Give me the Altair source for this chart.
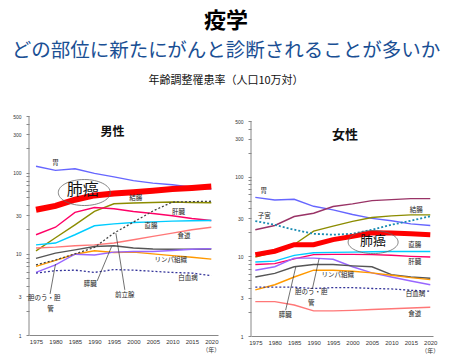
import altair as alt
import pandas as pd

FONT = "Noto Sans CJK JP"

years = [1975, 1980, 1985, 1990, 1995, 2000, 2005, 2010, 2015, 2020]
year_ticks = years
y_tick_values = [1, 2, 3, 4, 5, 6, 7, 8, 9, 10, 20, 30, 40, 50, 60, 70, 80, 90, 100, 200, 300, 400, 500]
y_label_values = [1, 3, 10, 30, 100, 300, 500]

# ---- male (age-adjusted incidence per 100,000) ----
m_stomach = [120, 107, 112, 98, 89, 80, 74.5, 71, 66.5, 63]
m_lung = [35, 39, 46.5, 52.5, 55.5, 57.6, 60, 63, 65, 67.5]
m_colon = [10.9, 15.8, 22.8, 33.3, 41.4, 42.3, 43, 43.5, 43, 42.6]
m_liver = [17.2, 21.3, 32.4, 37.2, 36, 33.3, 31.4, 29.5, 27.3, 25.8]
m_rectum = [12.9, 13.6, 17.2, 22.2, 23.4, 24.3, 24.8, 25.3, 25.6, 25.8]
m_prostate = [7.3, 8.4, 10, 12, 18, 24.6, 33.7, 43.5, 44, 44.5]
m_esophagus = [11.8, 12.1, 12.6, 12.9, 13.6, 14.9, 16.4, 18, 19.8, 21.3]
m_pancreas = [8.8, 10.2, 11.2, 12.3, 12.6, 11.8, 11.5, 11.4, 11.4, 11.5]
m_lymph = [7.0, 8.3, 9.9, 10.9, 10.4, 10.5, 10, 9.5, 9.1, 8.6]
m_gall = [5.9, 7.3, 9.9, 9.7, 10.5, 10.7, 10.7, 11, 11.4, 11.6]
m_leukemia = [5.8, 6.2, 6.3, 5.9, 6.4, 6.3, 6.1, 5.9, 5.8, 5.4]

# ---- female ----
f_stomach = [55, 51, 52, 42.5, 38.3, 33.5, 30, 28, 25.6, 24.4]
f_breast = [21.6, 24.4, 31.6, 34.8, 42.2, 45.5, 50, 51.6, 53, 53]
f_uterus = [27.7, 24.9, 21.6, 19.2, 18.7, 19.2, 21.6, 24.9, 28, 31.9]
f_colon = [9.8, 11.3, 14.1, 20.7, 24, 27.5, 30.7, 32.2, 33.2, 33.2]
f_lung = [10.5, 11.6, 14, 14, 16.2, 17.8, 19.8, 19.6, 19.2, 18.7]
f_rectum = [8.5, 8.7, 10.3, 11.1, 11.2, 11.3, 11.4, 11.5, 11.5, 11.5]
f_liver = [7.9, 8.1, 9.3, 10.5, 10.6, 10.6, 10.5, 10.3, 10, 9.8]
f_gall = [6.7, 7.4, 9.5, 9.5, 9.2, 7.4, 6.2, 5.5, 4.9, 4.4]
f_pancreas = [5.5, 6.1, 7.4, 7.9, 7.9, 7.6, 7.4, 5.9, 5.5, 5.3]
f_lymph = [3.8, 4.4, 5.5, 6.7, 6.7, 6.5, 6.2, 5.8, 5.4, 5.1]
f_leukemia = [4.1, 4.1, 4.1, 3.95, 4.05, 4.05, 3.95, 3.9, 3.75, 3.65]
f_esophagus = [2.7, 2.7, 2.45, 2.07, 2.07, 2.1, 2.15, 2.2, 2.25, 2.3]

# ---- annotation labels (year, rate, text) ----
m_label_text = ["胃", "結腸", "肝臓", "直腸", "食道", "リンパ組織", "白血病", "膵臓", "前立腺", "胆のう・胆", "管"]
m_label_year = [1980, 2000.6, 2011.6, 2004.5, 2013, 2009.6, 2014, 1988.9, 1997.8, 1977.1, 1978.7]
m_label_rate = [131, 48.7, 32.7, 22.3, 16.7, 8.3, 5.0, 4.27, 3.12, 2.88, 2.12]

f_label_text = ["胃", "子宮", "結腸", "直腸", "肝臓", "リンパ組織", "白血病", "胆のう・胆", "管", "膵臓", "食道"]
f_label_year = [1977.2, 1977.3, 2016.4, 2016, 2016, 1996.2, 2016.2, 1989.4, 1989.4, 1982.7, 2016]
f_label_rate = [65.5, 31.9, 38.7, 14, 8.5, 5.8, 3.35, 3.52, 2.62, 1.83, 1.87]

# leader lines (from label to line)
m_lead_year = [1990.7, 1997.8, 1978.6]
m_lead_rate = [4.64, 3.6, 3.2]
m_lead_year2 = [1994.4, 1995.5, 1980]
m_lead_rate2 = [12.3, 18, 7.47]

f_lead_year = [1982.8, 1989.7]
f_lead_rate = [2.11, 3.95]
f_lead_year2 = [1985.4, 1991.4]
f_lead_rate2 = [7.35, 9.36]

# lung label + ellipse position
m_lung_label = (1987, 61.6)
f_lung_label = (2005.3, 15.8)
m_ellipse = (1987.4, 57)
f_ellipse = (2005.3, 15.1)

ELLIPSE_M = "M -1 0 A 1 0.5 0 1 0 1 0 A 1 0.5 0 1 0 -1 0 Z"
ELLIPSE_F = "M -1 0 A 1 0.46 0 1 0 1 0 A 1 0.46 0 1 0 -1 0 Z"


def make_panel(series, lung, labels, leaders, lung_label, lung_fs, ellipse, ell_path, ell_size,
               title, title_xy, title_fs, width, height, xdom, ydom, nen_y):
    x_enc = alt.X("year:Q",
                  scale=alt.Scale(domain=xdom, nice=False, zero=False),
                  axis=alt.Axis(values=year_ticks, format="d", ticks=False, grid=False,
                                domainColor="#888888", domainWidth=1,
                                labelFontSize=6, labelColor="#333333", labelFont="Liberation Sans",
                                labelPadding=3, labelOverlap=False, labelFlush=False, title=None))
    label_expr = "indexof([1,3,10,30,100,300,500], datum.value) >= 0 ? datum.label : ''"
    y_enc = alt.Y("rate:Q",
                  scale=alt.Scale(type="log", domain=ydom, nice=False),
                  axis=alt.Axis(values=y_tick_values, format="d", labelExpr=label_expr,
                                grid=False, domain=False, tickSize=3, tickColor="#888888",
                                labelFontSize=5, labelColor="#333333", labelFont="Liberation Sans",
                                labelPadding=5, labelOverlap=False, title=None))

    layers = []
    # y axis line
    axis_df = pd.DataFrame({"rate": [1], "rate2": [500]})
    layers.append(alt.Chart(axis_df).mark_rule(color="#888888", strokeWidth=1).encode(
        x=alt.value(0), y=y_enc, y2="rate2:Q"))

    for vals, color, sw, dash in series:
        df = pd.DataFrame({"year": years, "rate": vals})
        kw = dict(color=color, strokeWidth=sw)
        if dash:
            kw["strokeDash"] = dash
        layers.append(alt.Chart(df).mark_line(**kw).encode(x=x_enc, y=y_enc))

    # lung (thick red)
    ldf = pd.DataFrame({"year": years, "rate": lung[0]})
    layers.append(alt.Chart(ldf).mark_line(color="#ff0000", strokeWidth=lung[1]).encode(x=x_enc, y=y_enc))

    # leaders
    ly, lr, ly2, lr2 = leaders
    lead_df = pd.DataFrame({"year": ly, "rate": lr, "year2": ly2, "rate2": lr2})
    layers.append(alt.Chart(lead_df).mark_rule(color="#333333", strokeWidth=0.7).encode(
        x=x_enc, y=y_enc, x2="year2:Q", y2="rate2:Q"))

    # labels
    t, ty, tr = labels
    lab_df = pd.DataFrame({"year": ty, "rate": tr, "text": t})
    layers.append(alt.Chart(lab_df).mark_text(font=FONT, fontSize=6.5, color="#222222").encode(
        x=x_enc, y=y_enc, text="text:N"))

    # ellipse + lung label
    edf = pd.DataFrame({"year": [ellipse[0]], "rate": [ellipse[1]]})
    layers.append(alt.Chart(edf).mark_point(shape=ell_path, size=ell_size, filled=False,
                                            stroke="#666666", strokeWidth=0.8, opacity=1).encode(
        x=x_enc, y=y_enc))
    bdf = pd.DataFrame({"year": [lung_label[0]], "rate": [lung_label[1]], "text": ["肺癌"]})
    layers.append(alt.Chart(bdf).mark_text(font=FONT, fontSize=lung_fs, color="#111111").encode(
        x=x_enc, y=y_enc, text="text:N"))

    # panel title
    tdf = pd.DataFrame({"text": [title]})
    layers.append(alt.Chart(tdf).mark_text(font=FONT, fontSize=title_fs, fontWeight="bold",
                                           color="#111111").encode(
        x=alt.value(title_xy[0]), y=alt.value(title_xy[1]), text="text:N"))

    # (年)
    ndf = pd.DataFrame({"year": [2020], "text": ["（年）"]})
    layers.append(alt.Chart(ndf).mark_text(font=FONT, fontSize=6, color="#333333").encode(
        x=x_enc, y=alt.value(nen_y), text="text:N"))

    return alt.layer(*layers).properties(width=width, height=height)


male_series = [
    (m_stomach, "#6666ff", 1.4, None),
    (m_colon, "#8c8c00", 1.4, None),
    (m_liver, "#ff0066", 1.4, None),
    (m_rectum, "#00ccff", 1.4, None),
    (m_esophagus, "#ff7777", 1.4, None),
    (m_pancreas, "#555555", 1.4, None),
    (m_lymph, "#ff9900", 1.4, None),
    (m_gall, "#9966ff", 1.4, None),
    (m_leukemia, "#333399", 1.3, [2, 2]),
    (m_prostate, "#444444", 1.3, [2, 2]),
]
female_series = [
    (f_stomach, "#6666ff", 1.4, None),
    (f_breast, "#993366", 1.4, None),
    (f_colon, "#8c8c00", 1.4, None),
    (f_rectum, "#00ccff", 1.4, None),
    (f_liver, "#ff0066", 1.4, None),
    (f_gall, "#9966ff", 1.4, None),
    (f_pancreas, "#555555", 1.4, None),
    (f_lymph, "#ff9900", 1.4, None),
    (f_esophagus, "#ff7777", 1.4, None),
    (f_leukemia, "#333399", 1.3, [2, 2]),
    (f_uterus, "#1a8cb3", 1.8, [2, 2]),
]

left = make_panel(male_series, (m_lung, 6),
                  (m_label_text, m_label_year, m_label_rate),
                  (m_lead_year, m_lead_rate, m_lead_year2, m_lead_rate2),
                  m_lung_label, 16, m_ellipse, ELLIPSE_M, 2704,
                  "男性", (83.5, 16), 12, 189, 219, [1973.2, 2021.72], [1, 500], 234)

right = make_panel(female_series, (f_lung, 5),
                   (f_label_text, f_label_year, f_label_rate),
                   (f_lead_year, f_lead_rate, f_lead_year2, f_lead_rate2),
                   f_lung_label, 13, f_ellipse, ELLIPSE_F, 2500,
                   "女性", (94, 18.5), 13, 182, 220, [1973.89, 2020.7], [1, 578], 235)

# header
hdf = pd.DataFrame({"t": [0]})
h1 = alt.Chart(hdf).mark_text(text="疫学", font=FONT, fontSize=22, fontWeight="bold",
                               baseline="top", color="#000000").encode(x=alt.value(197), y=alt.value(3))
h2 = alt.Chart(hdf).mark_text(text="どの部位に新たにがんと診断されることが多いか", font=FONT,
                               fontSize=19.5, color="#1a4f94").encode(x=alt.value(197), y=alt.value(43))
h3 = alt.Chart(hdf).mark_text(text="年齢調整罹患率（人口10万対）", font=FONT, fontSize=11,
                               color="#111111").encode(x=alt.value(197), y=alt.value(73))
header = alt.layer(h1, h2, h3).properties(width=400, height=108)

panels = alt.hconcat(left, right, spacing=33, bounds="flush")
chart = alt.vconcat(header, panels, spacing=0, bounds="flush").properties(
    padding={"left": 3, "top": 0, "right": 0, "bottom": 0}
).configure_view(strokeWidth=0)

chart.save("out.html", embed_options={"renderer": "svg", "actions": False})
